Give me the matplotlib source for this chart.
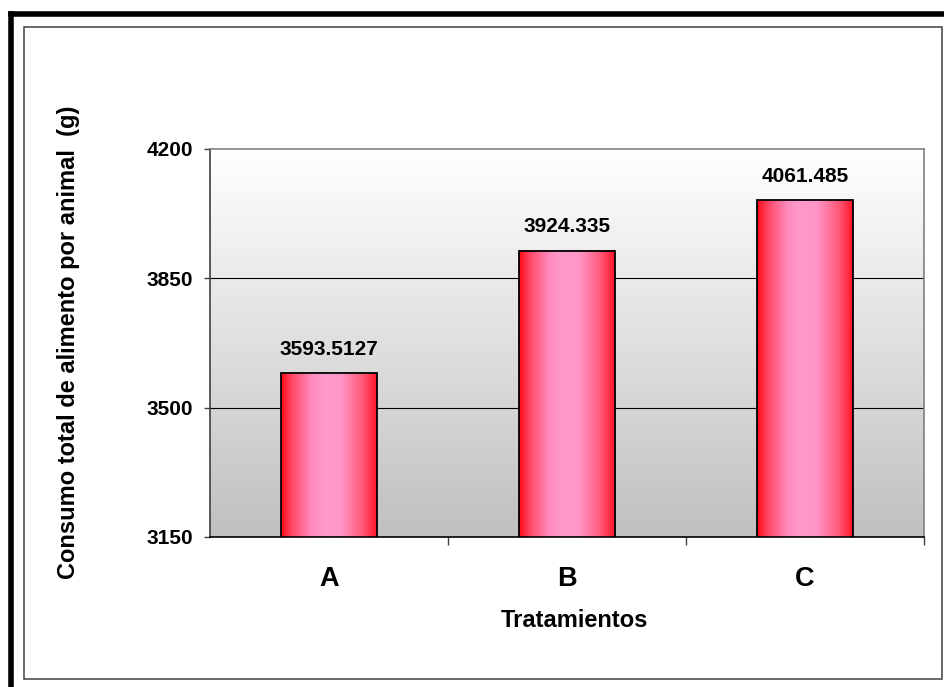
import numpy as np
import matplotlib
matplotlib.use("Agg")
import matplotlib.pyplot as plt
from matplotlib.colors import LinearSegmentedColormap
from matplotlib.patches import Rectangle
from matplotlib.lines import Line2D

# ----------------------------------
# Data
# ----------------------------------

tratamientos = ["A", "B", "C"]
consumo = [3593.5127, 3924.335, 4061.485]
value_labels = ["3593.5127", "3924.335", "4061.485"]
y_ticks = [3150, 3500, 3850, 4200]

plt.rcParams["font.family"] = ["Liberation Sans", "DejaVu Sans"]
plt.rcParams["font.weight"] = "bold"

W, H = 944, 687
fig = plt.figure(figsize=(W / 100, H / 100), dpi=100)

def fx(px):
    return px / W

def fy(py):
    return (H - py) / H

# ----------------------------------
# Borders (thick outer + thin inner)
# ----------------------------------

fig.add_artist(Line2D([fx(10.7), fx(10.7)], [fy(13.9), fy(700)],
                      color="black", lw=4.0, transform=fig.transFigure,
                      solid_capstyle="projecting"))
fig.add_artist(Line2D([fx(10.7), fx(960)], [fy(13.9), fy(13.9)],
                      color="black", lw=4.0, transform=fig.transFigure,
                      solid_capstyle="projecting"))
fig.add_artist(Rectangle((fx(23.5), fy(679)), fx(941.7) - fx(23.5),
                         fy(26.7) - fy(679), fill=False,
                         edgecolor="#404040", lw=1.1,
                         transform=fig.transFigure))

# ----------------------------------
# Axes
# ----------------------------------

ax = fig.add_axes([fx(210), fy(537), fx(924) - fx(210), fy(149) - fy(537)])
ax.set_xlim(-0.5, 2.5)
ax.set_ylim(y_ticks[0], y_ticks[-1])

# background gradient
bg = LinearSegmentedColormap.from_list("bg", ["#c0c0c0", "#ffffff"])
ax.imshow(np.linspace(0, 1, 256).reshape(-1, 1), cmap=bg, origin="lower",
          extent=[-0.5, 2.5, y_ticks[0], y_ticks[-1]], aspect="auto",
          zorder=0)

# gridlines
for yv in y_ticks[1:-1]:
    ax.axhline(yv, color="black", lw=0.8, zorder=1)

# bars
x = np.arange(len(tratamientos))
bars = ax.bar(x, consumo, width=0.403, bottom=0, facecolor="none",
              edgecolor="black", lw=1.3, zorder=3)

bar_cmap = LinearSegmentedColormap.from_list(
    "barcm",
    [(0.0, "#ff0a14"), (0.12, "#ff4a6a"), (0.32, "#ff8cc0"),
     (0.45, "#ff99cc"), (0.62, "#ff96c8"), (0.85, "#ff5a7a"),
     (1.0, "#ff1428")])
grad = np.linspace(0, 1, 256).reshape(1, -1)
for b in bars:
    ax.imshow(grad, cmap=bar_cmap, aspect="auto",
              extent=[b.get_x(), b.get_x() + b.get_width(),
                      y_ticks[0], b.get_height()],
              zorder=2)

ax.set_xlim(-0.5, 2.5)
ax.set_ylim(y_ticks[0], y_ticks[-1])

# value labels
for b, lab in zip(bars, value_labels):
    ax.annotate(lab, (b.get_x() + b.get_width() / 2, b.get_height()),
                xytext=(0, 13.3), textcoords="offset points",
                ha="center", va="baseline", fontsize=15,
                fontweight="bold", zorder=4)

# ----------------------------------
# Spines & ticks
# ----------------------------------

ax.spines["top"].set_color("#808080")
ax.spines["right"].set_color("#808080")
ax.spines["top"].set_linewidth(1.2)
ax.spines["right"].set_linewidth(1.2)
ax.spines["left"].set_color("#404040")
ax.spines["left"].set_linewidth(1.2)
ax.spines["bottom"].set_color("black")
ax.spines["bottom"].set_linewidth(1.2)

ax.set_yticks(y_ticks)
ax.set_yticklabels([str(v) for v in y_ticks], fontsize=15,
                   fontweight="bold")
ax.tick_params(axis="y", direction="out", length=4.5, width=1,
               color="#404040", pad=8)

ax.set_xticks([0.5, 1.5, 2.5], minor=False)
ax.set_xticklabels([])
ax.set_xticks(x, minor=True)
ax.set_xticklabels(tratamientos, minor=True, fontsize=19.5,
                   fontweight="bold")
ax.tick_params(axis="x", which="major", direction="out", length=6,
               width=1, color="#404040")
ax.tick_params(axis="x", which="minor", length=0, pad=21)

# ----------------------------------
# Axis titles
# ----------------------------------

fig.text(fx(574), fy(626.7), "Tratamientos", ha="center",
         va="baseline", fontsize=17, fontweight="bold")
fig.text(fx(69), fy(342), "Consumo total de alimento por animal  (g)",
         rotation=90, ha="center", va="center", fontsize=17,
         fontweight="bold")

fig.savefig("out.png", dpi=100)
